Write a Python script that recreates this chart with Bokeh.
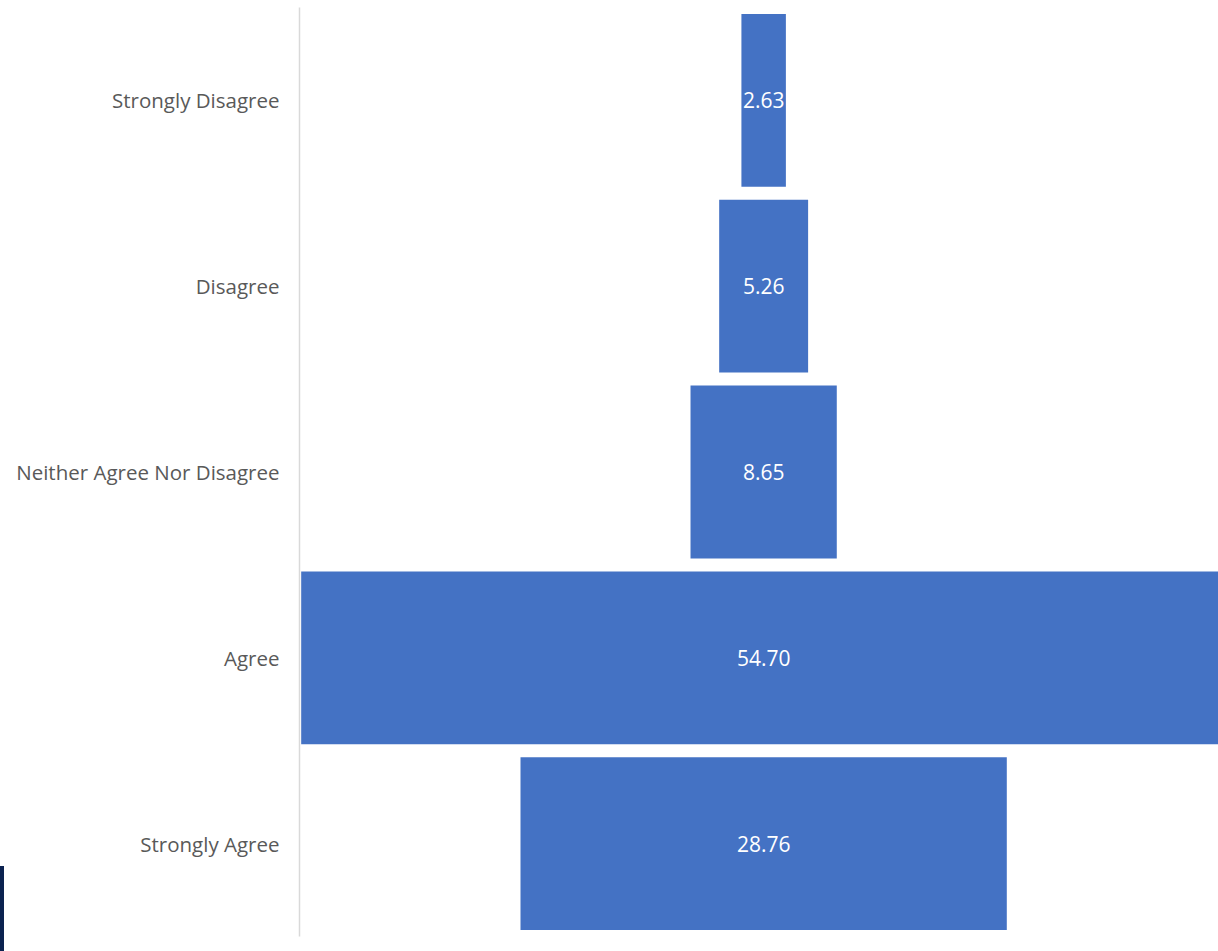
from bokeh.plotting import figure
from bokeh.models import ColumnDataSource, FactorRange, Range1d, Div, Spacer
from bokeh.layouts import row, column
from bokeh.core.properties import value
from bokeh.embed import file_html
from bokeh.resources import INLINE

categories = ["Strongly Disagree", "Disagree", "Neither Agree Nor Disagree", "Agree", "Strongly Agree"]
values = [2.63, 5.26, 8.65, 54.70, 28.76]
value_labels = ["2.63", "5.26", "8.65", "54.70", "28.76"]

src = ColumnDataSource(dict(
    cat=categories,
    left=[-v / 2 for v in values],
    right=[v / 2 for v in values],
    x=[0.0] * len(values),
    lab=value_labels,
))

p = figure(
    width=1214, height=951,
    y_range=FactorRange(factors=list(reversed(categories))),
    x_range=Range1d(-27.45, 26.9),
    output_backend="svg", toolbar_location=None,
    min_border_left=295, min_border_right=0, min_border_top=7, min_border_bottom=15,
)
p.frame_width = 919
p.frame_height = 929
p.outline_line_color = None
p.background_fill_color = "white"
p.border_fill_color = "white"
p.xgrid.visible = False
p.ygrid.visible = False
p.xaxis.visible = False

ya = p.yaxis[0]
ya.axis_line_color = "#D9D9D9"
ya.axis_line_width = 1.5
ya.major_tick_line_color = None
ya.minor_tick_line_color = None
ya.major_label_standoff = 14
ya.major_label_text_font = "Open Sans"
ya.major_label_text_font_size = "20.5px"
ya.major_label_text_color = "#595959"

p.hbar(y="cat", left="left", right="right", height=0.93, source=src,
       fill_color="#4472C4", line_color=None)
p.text(x="x", y="cat", text="lab", source=src, text_align="center", text_baseline="middle",
       text_color="white", text_font=value("Open Sans"), text_font_size="21px")

edge = column(
    Spacer(width=4, height=866, margin=0),
    Div(text="", width=4, height=85, margin=0, styles={"background-color": "#0B2250"}),
    spacing=0, margin=0,
)
layout = row(edge, p, spacing=0, margin=0)

open("out.html", "w").write(file_html(layout, INLINE))
